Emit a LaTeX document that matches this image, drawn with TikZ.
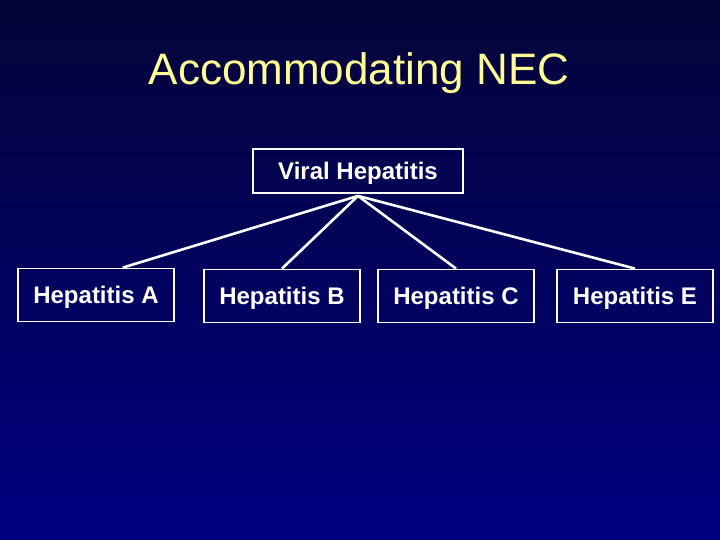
\documentclass[tikz,border=0pt]{standalone}
\usepackage{fontspec}
\setmainfont{Liberation Sans}
\usetikzlibrary{calc}

\definecolor{navytop}{RGB}{4,4,56}
\definecolor{navybot}{RGB}{0,0,130}
\definecolor{titleyellow}{RGB}{255,255,150}

\tikzset{
	hepbox/.style={draw=white,line width=1.8pt,text=white,minimum height=53pt,
		minimum width=156pt,inner sep=0pt,text depth=0pt,
		font=\fontsize{24}{24}\selectfont\bfseries},
	branch/.style={draw=white,line width=2.6pt}
}

\begin{document}
\begin{tikzpicture}[x=1pt,y=-1pt]
			\shade[top color=navytop,bottom color=navybot] (0,0) rectangle (720,540);
			\useasboundingbox (0,0) rectangle (720,540);
			\node[anchor=base,text=titleyellow,font=\fontsize{44}{44}\selectfont] (title) at (359,85) {Accommodating NEC};
			\node[hepbox,minimum width=210pt,minimum height=44pt] (viral) at (358,171) {Viral Hepatitis};
			\node[hepbox] (hepa) at (96,295) {Hepatitis A};
			\node[hepbox] (hepb) at (282,296) {Hepatitis B};
			\node[hepbox] (hepc) at (456,296) {Hepatitis C};
			\node[hepbox] (hepe) at (635,296) {Hepatitis E};
			\coordinate (root) at ($(viral.south)+(0,2)$);
			\draw[branch] (root) -- ($(hepa.north west)!0.67!(hepa.north east)$);
			\draw[branch] (root) -- (hepb.north);
			\draw[branch] (root) -- (hepc.north);
			\draw[branch] (root) -- (hepe.north);
		\end{tikzpicture}
\end{document}
